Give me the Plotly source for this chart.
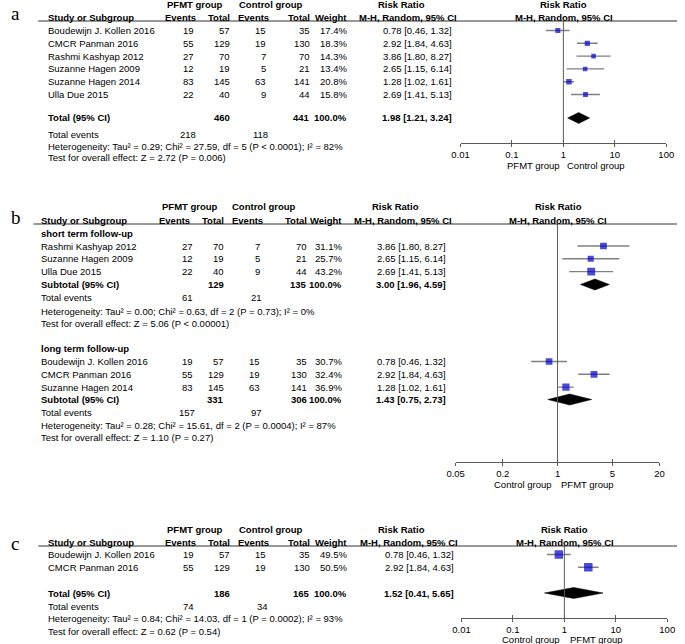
import plotly.graph_objects as go
import math

W, H = 685, 644
FONT = "Arial, Liberation Sans, sans-serif"
FS = 9.5
BLUE = "#0000CC"
GREY = "#808080"
AX = "#5a5a5a"

# ---------------- data ----------------
# Panel a
a_names = ["Boudewijn J. Kollen 2016", "CMCR Panman 2016", "Rashmi Kashyap 2012",
           "Suzanne Hagen 2009", "Suzanne Hagen 2014", "Ulla Due 2015"]
a_ev1 = [19, 55, 27, 12, 83, 22]
a_n1 = [57, 129, 70, 19, 145, 40]
a_ev2 = [15, 19, 7, 5, 63, 9]
a_n2 = [35, 130, 70, 21, 141, 44]
a_w = [17.4, 18.3, 14.3, 13.4, 20.8, 15.8]
a_rr = [0.78, 2.92, 3.86, 2.65, 1.28, 2.69]
a_lo = [0.46, 1.84, 1.80, 1.15, 1.02, 1.41]
a_hi = [1.32, 4.63, 8.27, 6.14, 1.61, 5.13]
a_tot = [460, 441, 100.0, 1.98, 1.21, 3.24]
a_te = [218, 118]
a_het = "Heterogeneity: Tau² = 0.29; Chi² = 27.59, df = 5 (P < 0.0001); I² = 82%"
a_test = "Test for overall effect: Z = 2.72 (P = 0.006)"
a_ticks = [0.01, 0.1, 1, 10, 100]
a_ticklabels = ["0.01", "0.1", "1", "10", "100"]

# Panel b - short term
bs_names = ["Rashmi Kashyap 2012", "Suzanne Hagen 2009", "Ulla Due 2015"]
bs_ev1 = [27, 12, 22]
bs_n1 = [70, 19, 40]
bs_ev2 = [7, 5, 9]
bs_n2 = [70, 21, 44]
bs_w = [31.1, 25.7, 43.2]
bs_rr = [3.86, 2.65, 2.69]
bs_lo = [1.80, 1.15, 1.41]
bs_hi = [8.27, 6.14, 5.13]
bs_tot = [129, 135, 100.0, 3.00, 1.96, 4.59]
bs_te = [61, 21]
bs_het = "Heterogeneity: Tau² = 0.00; Chi² = 0.63, df = 2 (P = 0.73); I² = 0%"
bs_test = "Test for overall effect: Z = 5.06 (P < 0.00001)"
# Panel b - long term
bl_names = ["Boudewijn J. Kollen 2016", "CMCR Panman 2016", "Suzanne Hagen 2014"]
bl_ev1 = [19, 55, 83]
bl_n1 = [57, 129, 145]
bl_ev2 = [15, 19, 63]
bl_n2 = [35, 130, 141]
bl_w = [30.7, 32.4, 36.9]
bl_rr = [0.78, 2.92, 1.28]
bl_lo = [0.46, 1.84, 1.02]
bl_hi = [1.32, 4.63, 1.61]
bl_tot = [331, 306, 100.0, 1.43, 0.75, 2.73]
bl_te = [157, 97]
bl_het = "Heterogeneity: Tau² = 0.28; Chi² = 15.61, df = 2 (P = 0.0004); I² = 87%"
bl_test = "Test for overall effect: Z = 1.10 (P = 0.27)"
b_ticks = [0.05, 0.2, 1, 5, 20]
b_ticklabels = ["0.05", "0.2", "1", "5", "20"]

# Panel c
c_names = ["Boudewijn J. Kollen 2016", "CMCR Panman 2016"]
c_ev1 = [19, 55]
c_n1 = [57, 129]
c_ev2 = [15, 19]
c_n2 = [35, 130]
c_w = [49.5, 50.5]
c_rr = [0.78, 2.92]
c_lo = [0.46, 1.84]
c_hi = [1.32, 4.63]
c_tot = [186, 165, 100.0, 1.52, 0.41, 5.65]
c_te = [74, 34]
c_het = "Heterogeneity: Tau² = 0.84; Chi² = 14.03, df = 1 (P = 0.0002); I² = 93%"
c_test = "Test for overall effect: Z = 0.62 (P = 0.54)"
c_ticks = [0.01, 0.1, 1, 10, 100]
c_ticklabels = ["0.01", "0.1", "1", "10", "100"]

# ---------------- helpers ----------------
annotations = []
shapes = []
traces = []


def px(x):
    return x / W


def py(y):
    return 1 - y / H


def txt(x, y, s, anchor="left", bold=False, size=FS, family=FONT):
    if bold:
        s = "<b>" + s + "</b>"
    annotations.append(dict(x=px(x), y=py(y), xref="paper", yref="paper", text=s,
                            showarrow=False, xanchor=anchor, yanchor="middle",
                            borderpad=0, font=dict(size=size, family=family, color="black")))


def hline(x0, x1, y, color="#333333", width=1):
    shapes.append(dict(type="line", xref="paper", yref="paper", x0=px(x0), x1=px(x1),
                       y0=py(y), y1=py(y), line=dict(color=color, width=width)))


def fmt_ci(rr, lo, hi):
    return f"{rr:.2f} [{lo:.2f}, {hi:.2f}]"


def msize(w):
    return 1.15 * math.sqrt(w) + 0.3


def forest(xa, ya, ys, rr, lo, hi, w):
    xs, yy = [], []
    for r, l, h, y in zip(rr, lo, hi, ys):
        xs += [l, h, None]
        yy += [y, y, None]
    traces.append(go.Scatter(x=xs, y=yy, mode="lines", line=dict(color=GREY, width=1.4),
                             xaxis=xa, yaxis=ya, hoverinfo="skip", showlegend=False))
    traces.append(go.Scatter(x=rr, y=ys, mode="markers",
                             marker=dict(symbol="square", color=BLUE, size=[msize(v) for v in w],
                                         line=dict(width=0)),
                             xaxis=xa, yaxis=ya, hoverinfo="skip", showlegend=False))


def diamond(xa, ya, y, est, lo, hi, h=5.5):
    traces.append(go.Scatter(x=[lo, est, hi, est, lo], y=[y, y - h, y, y + h, y],
                             mode="lines", fill="toself", fillcolor="black",
                             line=dict(color="black", width=0.5),
                             xaxis=xa, yaxis=ya, hoverinfo="skip", showlegend=False))


def vline(xa, ya, top, bottom):
    traces.append(go.Scatter(x=[1, 1], y=[top, bottom], mode="lines",
                             line=dict(color=AX, width=1), xaxis=xa, yaxis=ya,
                             hoverinfo="skip", showlegend=False))


def headers(y1, y2, rule_y, rule_x0, c):
    txt(c["pfmt"], y1, "PFMT group", "center", True)
    txt(c["ctrl"], y1, "Control group", "center", True)
    txt(c["rrh"], y1, "Risk Ratio", "center", True)
    txt(c["fc"], y1, "Risk Ratio", "center", True)
    txt(c["name"], y2, "Study or Subgroup", "left", True)
    txt(c["ev1h"], y2, "Events", "right", True)
    txt(c["n1"], y2, "Total", "right", True)
    txt(c["ev2h"], y2, "Events", "right", True)
    txt(c["n2"], y2, "Total", "right", True)
    txt(c["w"], y2, "Weight", "right", True)
    txt(c["rrh2"], y2, "M-H, Random, 95% CI", "center", True)
    txt(c["fc"], y2, "M-H, Random, 95% CI", "center", True)
    hline(rule_x0, W, rule_y)


def study_rows(c, ys, names, ev1, n1, ev2, n2, w, rr, lo, hi):
    for i, y in enumerate(ys):
        txt(c["name"], y, names[i])
        txt(c["ev1"], y, str(ev1[i]), "center")
        txt(c["n1"], y, str(n1[i]), "right")
        txt(c["ev2"], y, str(ev2[i]), "right")
        txt(c["n2"], y, str(n2[i]), "right")
        txt(c["w"], y, f"{w[i]:.1f}%", "right")
        txt(c["rr"], y, fmt_ci(rr[i], lo[i], hi[i]), "right")


def total_rows(c, y, label, tot, y_te, te, y_het, het, y_test, test):
    txt(c["name"], y, label, "left", True)
    txt(c["n1"], y, str(tot[0]), "right", True)
    txt(c["n2"], y, str(tot[1]), "right", True)
    txt(c["w"], y, f"{tot[2]:.1f}%", "right", True)
    txt(c["rr"], y, fmt_ci(tot[3], tot[4], tot[5]), "right", True)
    txt(c["name"], y_te, "Total events")
    txt(c["ev1"], y_te, str(te[0]), "center")
    txt(c["ev2"] + 2, y_te, str(te[1]), "right")
    txt(c["name"], y_het, het)
    txt(c["name"], y_test, test)


# ---------------- panel a ----------------
ca = dict(name=39, pfmt=191, ctrl=269, rrh=402, rrh2=409, fc=569, ev1=184, ev1h=193, n1=228,
          ev2=265, ev2h=268, n2=310, w=348, rr=455)
txt(1, 14, "a", "left", size=19, family="Liberation Serif, Times New Roman, serif")
headers(5, 17, 21, 30, ca)
a_y = [30.5 + 12.8 * i for i in range(len(a_names))]
study_rows(ca, a_y, a_names, a_ev1, a_n1, a_ev2, a_n2, a_w, a_rr, a_lo, a_hi)
total_rows(ca, 118, "Total (95% CI)", a_tot, 134, a_te, 146, a_het, 158, a_test)
forest("x", "y", a_y, a_rr, a_lo, a_hi, a_w)
diamond("x", "y", 118, a_tot[3], a_tot[4], a_tot[5])
vline("x", "y", 21, 143)
txt(538, 165, "PFMT group", "center")
txt(602, 165, "Control group", "center")

# ---------------- panel b ----------------
cb = dict(name=32, pfmt=186, ctrl=262, rrh=396, rrh2=404, fc=563, ev1=183, ev1h=187, n1=222,
          ev2=258, ev2h=262, n2=307, w=342, rr=449)
txt(1, 218, "b", "left", size=19, family="Liberation Serif, Times New Roman, serif")
headers(207, 220, 224, 25, cb)
txt(cb["name"], 233.5, "short term follow-up", "left", True)
bs_y = [246 + 12.8 * i for i in range(len(bs_names))]
study_rows(cb, bs_y, bs_names, bs_ev1, bs_n1, bs_ev2, bs_n2, bs_w, bs_rr, bs_lo, bs_hi)
total_rows(cb, 284.5, "Subtotal (95% CI)", bs_tot, 298, bs_te, 311, bs_het, 323.5, bs_test)
forest("x2", "y2", bs_y, bs_rr, bs_lo, bs_hi, bs_w)
diamond("x2", "y2", 284.5, bs_tot[3], bs_tot[4], bs_tot[5])
txt(cb["name"], 348.5, "long term follow-up", "left", True)
bl_y = [361.5 + 12.8 * i for i in range(len(bl_names))]
study_rows(cb, bl_y, bl_names, bl_ev1, bl_n1, bl_ev2, bl_n2, bl_w, bl_rr, bl_lo, bl_hi)
total_rows(cb, 399.5, "Subtotal (95% CI)", bl_tot, 412, bl_te, 425, bl_het, 437.5, bl_test)
forest("x2", "y2", bl_y, bl_rr, bl_lo, bl_hi, bl_w)
diamond("x2", "y2", 399.5, bl_tot[3], bl_tot[4], bl_tot[5])
vline("x2", "y2", 224, 462)
txt(527, 484, "Control group", "center")
txt(593, 484, "PFMT group", "center")

# ---------------- panel c ----------------
cc = dict(name=39, pfmt=191, ctrl=269, rrh=402, rrh2=410, fc=570, ev1=184, ev1h=193, n1=228,
          ev2=265, ev2h=268, n2=310, w=348, rr=457)
txt(1, 543, "c", "left", size=19, family="Liberation Serif, Times New Roman, serif")
headers(529.5, 542, 546, 30, cc)
c_y = [554.5 + 12.8 * i for i in range(len(c_names))]
study_rows(cc, c_y, c_names, c_ev1, c_n1, c_ev2, c_n2, c_w, c_rr, c_lo, c_hi)
total_rows(cc, 593, "Total (95% CI)", c_tot, 606, c_te, 618.5, c_het, 631, c_test)
forest("x3", "y3", c_y, c_rr, c_lo, c_hi, c_w)
diamond("x3", "y3", 593, c_tot[3], c_tot[4], c_tot[5])
vline("x3", "y3", 546, 618)
txt(535, 639, "Control group", "center")
txt(602, 639, "PFMT group", "center")

# invisible traces for the cross-tick overlay axes
for xa, ya, yb in [("x4", "y", 143), ("x5", "y2", 462), ("x6", "y3", 618)]:
    traces.append(go.Scatter(x=[1], y=[yb], mode="markers", marker=dict(opacity=0),
                             xaxis=xa, yaxis=ya, hoverinfo="skip", showlegend=False))

fig = go.Figure(traces)


def xaxis(x0, x1, rng, anchor, tv, tt):
    return dict(type="log", domain=[px(x0), px(x1)], range=rng, anchor=anchor,
                showline=True, linecolor=AX, linewidth=1, ticks="outside", ticklen=3,
                tickcolor=AX, tickwidth=1, tickvals=tv, ticktext=tt,
                tickfont=dict(size=FS, family=FONT, color="black"),
                showgrid=False, zeroline=False, fixedrange=True)


def overlay(base, anchor, rng, tv):
    return dict(type="log", overlaying=base, anchor=anchor, range=rng, ticks="inside",
                ticklen=3, tickcolor=AX, tickwidth=1, tickvals=tv, showticklabels=False,
                showline=False, showgrid=False, zeroline=False, fixedrange=True)


def yaxis(top, bottom):
    return dict(domain=[py(bottom), py(top)], range=[bottom, top], visible=False,
                showgrid=False, zeroline=False, fixedrange=True)


b_rng = [math.log10(0.05), math.log10(20)]
fig.update_layout(
    width=W, height=H, margin=dict(l=0, r=0, t=0, b=0),
    paper_bgcolor="white", plot_bgcolor="rgba(0,0,0,0)",
    showlegend=False,
    xaxis=xaxis(463, 674, [-2, 2], "y", a_ticks, a_ticklabels),
    xaxis2=xaxis(458, 667, b_rng, "y2", b_ticks, b_ticklabels),
    xaxis3=xaxis(464, 675, [-2, 2], "y3", c_ticks, c_ticklabels),
    xaxis4=overlay("x", "y", [-2, 2], a_ticks),
    xaxis5=overlay("x2", "y2", b_rng, b_ticks),
    xaxis6=overlay("x3", "y3", [-2, 2], c_ticks),
    yaxis=yaxis(21, 143),
    yaxis2=yaxis(224, 462),
    yaxis3=yaxis(546, 618),
    annotations=annotations,
    shapes=shapes,
)

fig.write_html("out.html", config={"displayModeBar": False},
               post_script="document.body.style.margin='0';document.body.style.padding='0';")
